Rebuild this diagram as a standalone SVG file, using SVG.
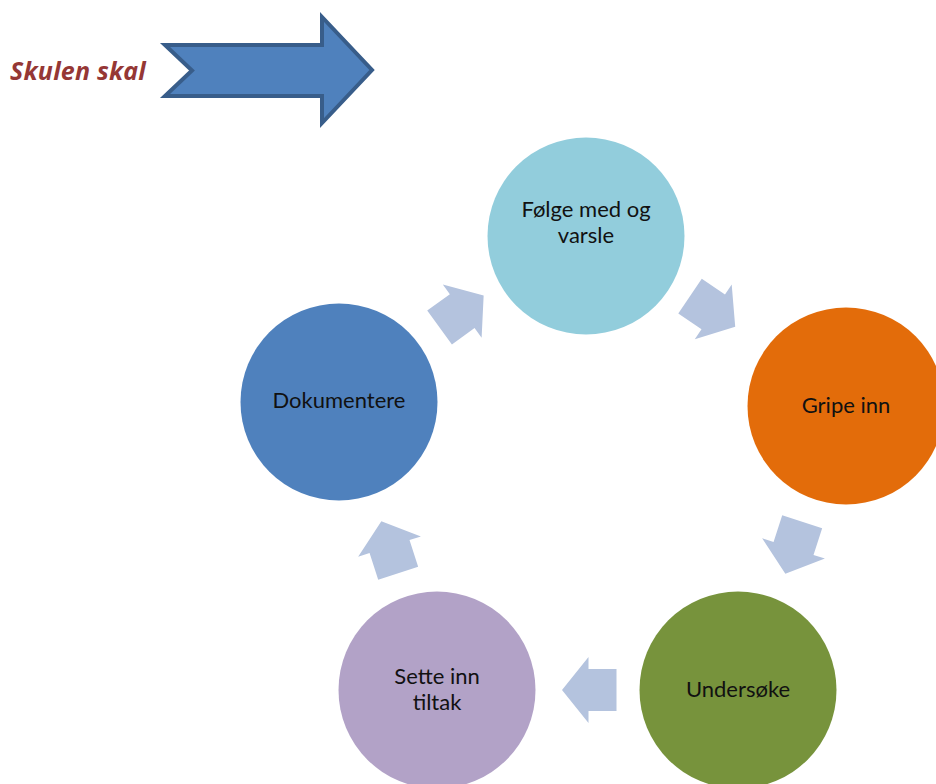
<svg xmlns="http://www.w3.org/2000/svg" width="936" height="784" viewBox="0 0 936 784">
<defs>
<style>
.lbl{font-family:Lato,"Liberation Sans",sans-serif;font-size:22px;fill:#111;text-anchor:middle}
.arr{fill:#b4c3de}
.title{font-family:"Open Sans","Liberation Sans",sans-serif;font-size:25px;font-weight:bold;font-style:italic;fill:#953735;letter-spacing:0.2px}
</style>
<polygon id="cyc" points="-26.5,-21 1.5,-21 1.5,-33 28,0 1.5,33 1.5,21 -26.5,21"/>
</defs>
<rect width="936" height="784" fill="#fff"/>
<g id="title">
<text class="title" x="10" y="80">Skulen skal</text>
</g>
<g id="bigarrow">
<polygon points="165,45 322,45 322,17 372,70 322,123 322,96 165,96 192,70.5" fill="#4f81bd" stroke="#385d8a" stroke-width="4" stroke-linejoin="miter"/>
</g>
<g id="connectors">
<use href="#cyc" class="arr" transform="translate(712,311) rotate(34)"/>
<use href="#cyc" class="arr" transform="translate(794,547) rotate(108)"/>
<use href="#cyc" class="arr" transform="translate(590,690) rotate(180)"/>
<use href="#cyc" class="arr" transform="translate(390,548) rotate(252)"/>
<use href="#cyc" class="arr" transform="translate(461,312) rotate(-36)"/>
</g>
<g id="folge">
<circle cx="586" cy="236" r="98.5" fill="#92cddc"/>
<text class="lbl" x="586" y="217">Følge med og</text>
<text class="lbl" x="586" y="243">varsle</text>
</g>
<g id="gripe">
<circle cx="846" cy="406" r="98.5" fill="#e36c0a"/>
<text class="lbl" x="846" y="413">Gripe inn</text>
</g>
<g id="undersoke">
<circle cx="738" cy="690" r="98.5" fill="#77933c"/>
<text class="lbl" x="738" y="697">Undersøke</text>
</g>
<g id="sette">
<circle cx="437" cy="690" r="98.5" fill="#b2a2c7"/>
<text class="lbl" x="437" y="684">Sette inn</text>
<text class="lbl" x="437" y="710">tiltak</text>
</g>
<g id="dokumentere">
<circle cx="339" cy="402" r="98.5" fill="#4f81bd"/>
<text class="lbl" x="339" y="408">Dokumentere</text>
</g>
</svg>
